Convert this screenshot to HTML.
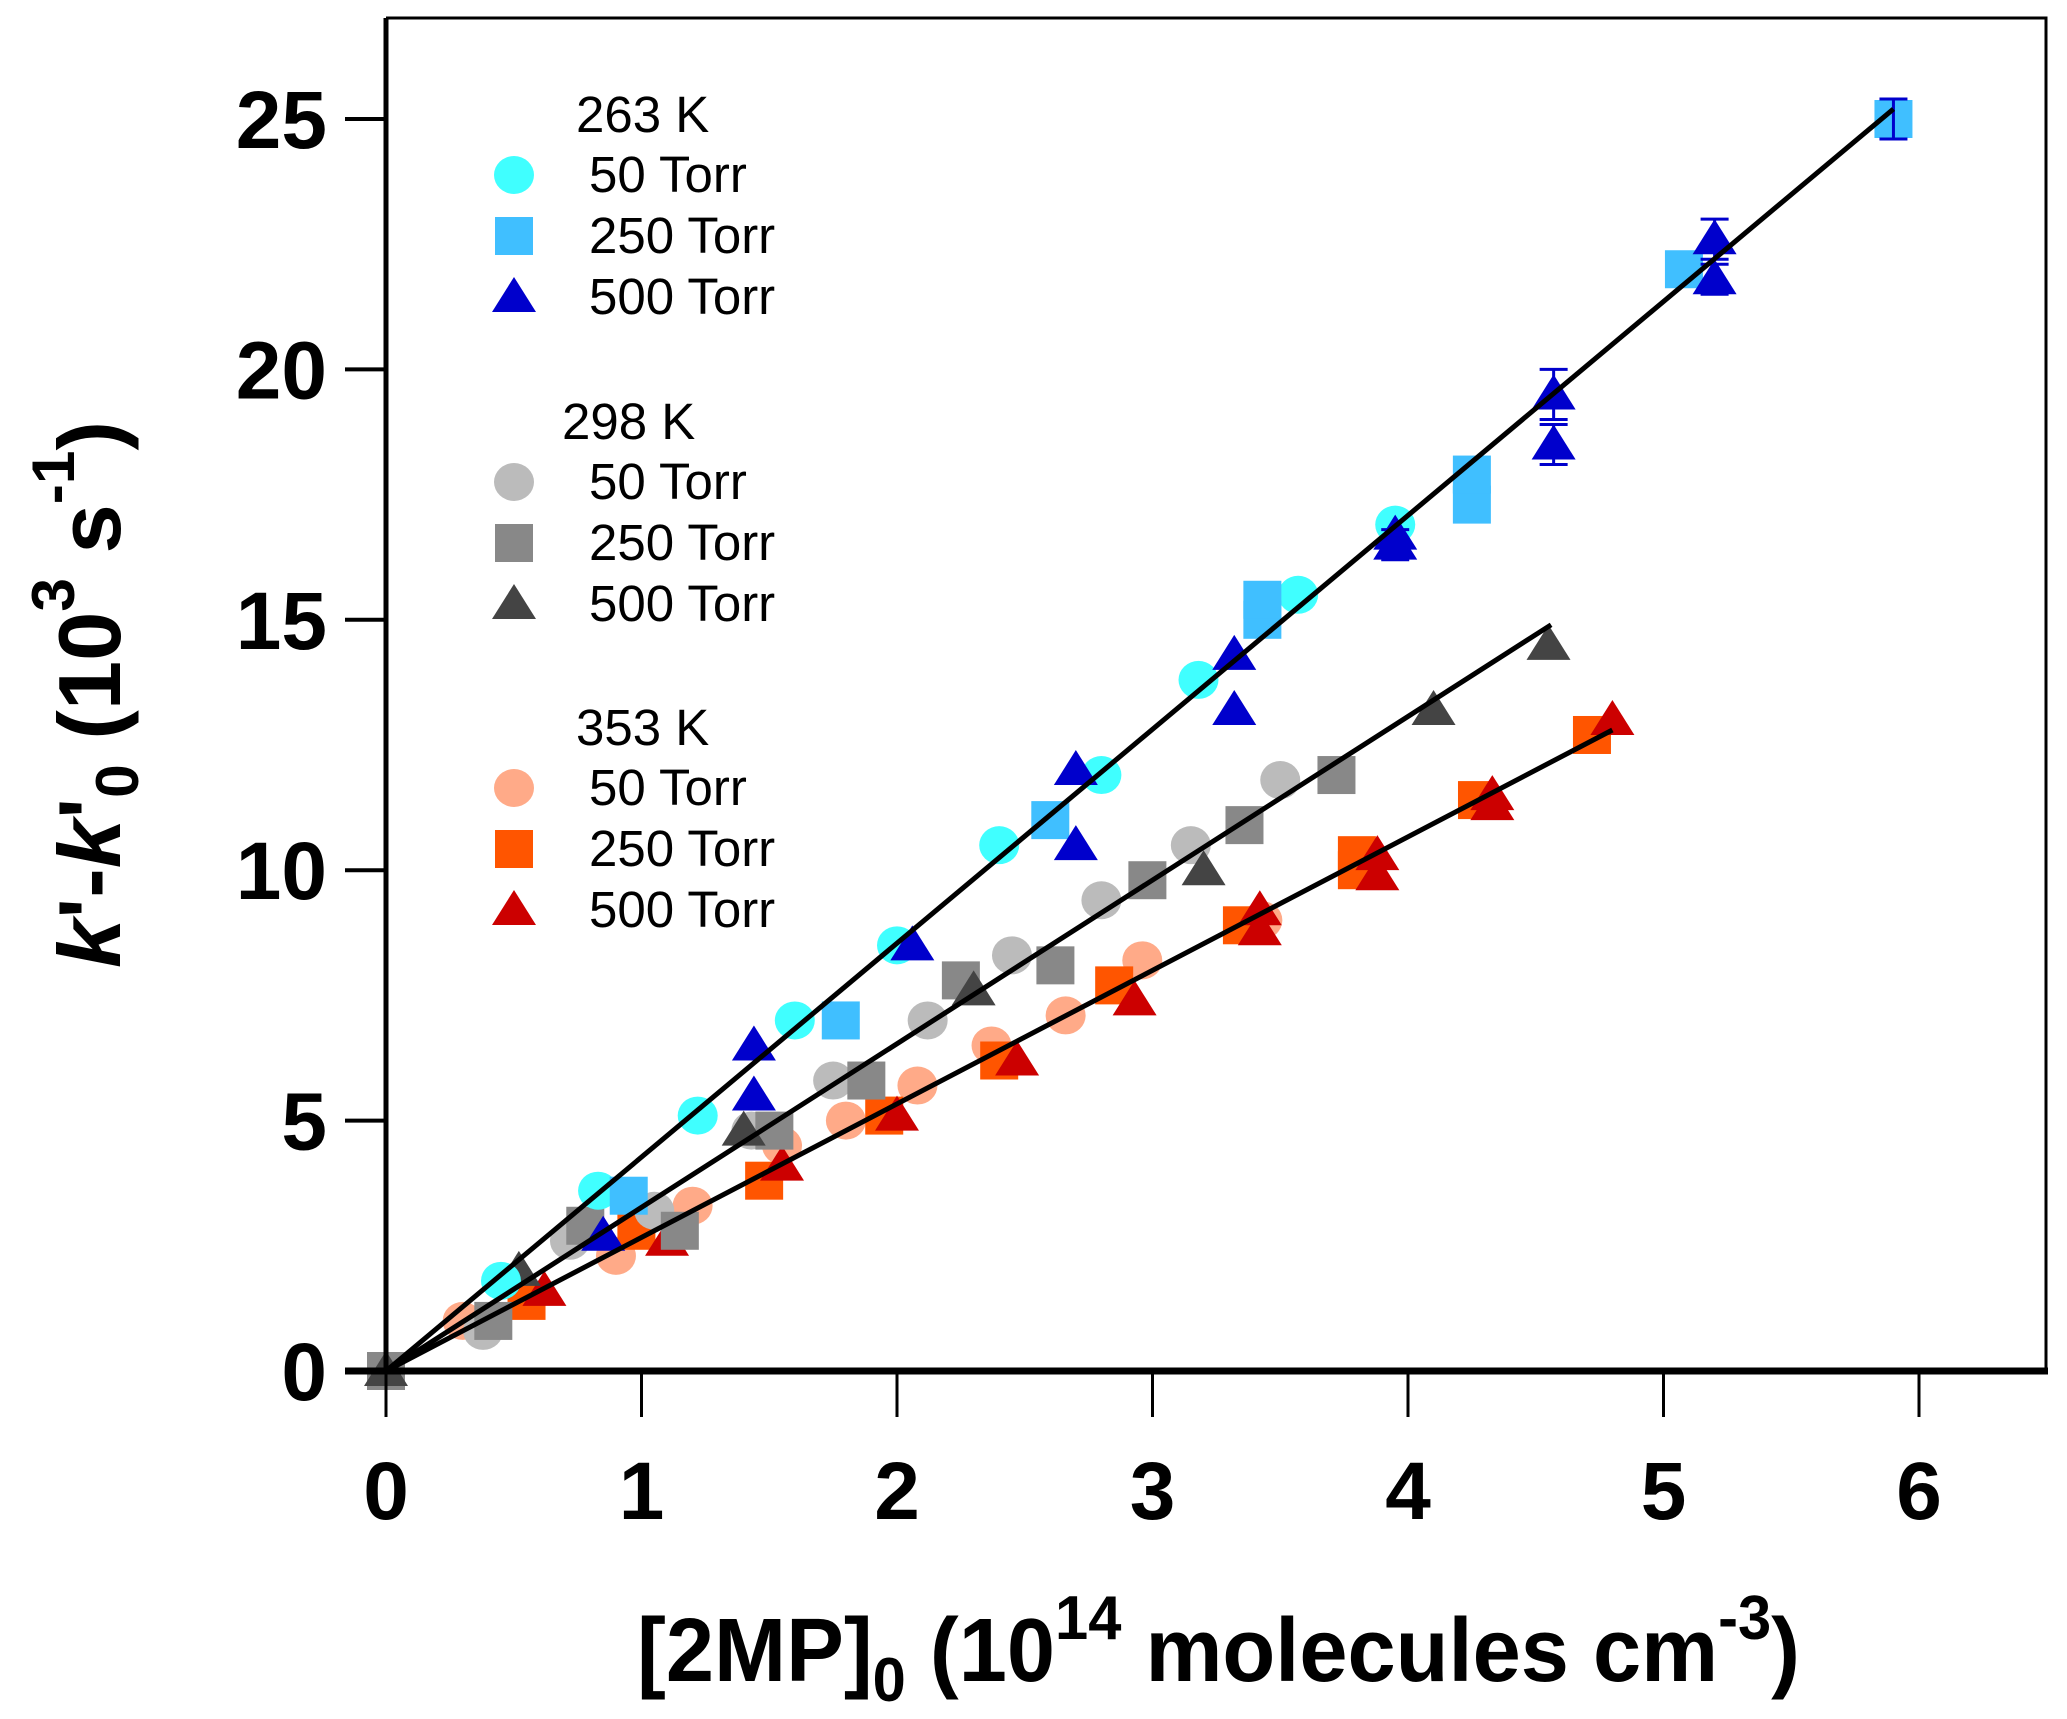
<!DOCTYPE html>
<html><head><meta charset="utf-8"><style>
html,body{margin:0;padding:0;background:#fff;}
svg{display:block;}
text{font-family:"Liberation Sans",Arial,sans-serif;}
</style></head><body>
<svg id="chart" width="2067" height="1719" viewBox="0 0 2067 1719" xmlns="http://www.w3.org/2000/svg">
<g id="marks"></g>
<g id="axes"></g>
<g id="legend"></g>
<text x="637" y="1681" font-size="90" font-weight="bold" textLength="1163" lengthAdjust="spacingAndGlyphs">[2MP]<tspan font-size="62" dy="20">0</tspan><tspan dy="-20"> (10</tspan><tspan font-size="62" dy="-42">14</tspan><tspan dy="42"> molecules cm</tspan><tspan font-size="62" dy="-42">-3</tspan><tspan dy="42">)</tspan></text>
<text transform="translate(120,968) rotate(-90)" x="0" y="0" font-size="88" font-weight="bold" textLength="547" lengthAdjust="spacingAndGlyphs"><tspan font-style="italic">k</tspan>'-<tspan font-style="italic">k</tspan>'<tspan font-size="60" dy="18">0</tspan><tspan dy="-18"> (10</tspan><tspan font-size="60" dy="-46">3</tspan><tspan dy="46"> s</tspan><tspan font-size="60" dy="-46">-1</tspan><tspan dy="46">)</tspan></text>
</svg>
<script>
const xTicks=[0,1,2,3,4,5,6];
const yTicks=[0,5,10,15,20,25];
const seriesNames=["353K-50","353K-250","353K-500","298K-50","298K-250","298K-500","263K-50","263K-250","263K-500"];
const s353_50x=[0.3,0.9,1.2,1.55,1.8,2.08,2.37,2.66,2.96,3.43];
const s353_50y=[1.0,2.3,3.3,4.5,5.0,5.7,6.5,7.1,8.2,9.0];
const s353_250x=[0.55,0.98,1.48,1.95,2.4,2.85,3.35,3.8,3.8,4.27,4.72];
const s353_250y=[1.4,2.8,3.8,5.1,6.2,7.7,8.9,10.0,10.3,11.4,12.7];
const s353_500x=[0.62,1.1,1.55,2.0,2.47,2.93,3.42,3.42,3.88,3.88,4.33,4.33,4.8];
const s353_500y=[1.6,2.6,4.1,5.1,6.2,7.4,9.2,8.8,10.3,9.9,11.5,11.3,13.0];
const s298_50x=[0.38,0.72,1.05,1.43,1.75,2.12,2.45,2.8,3.15,3.5];
const s298_50y=[0.8,2.6,3.2,4.8,5.8,7.0,8.3,9.4,10.5,11.8];
const s298_250x=[0,0.42,0.78,1.15,1.52,1.88,2.25,2.62,2.98,3.36,3.72];
const s298_250y=[0,1.0,2.9,2.8,4.8,5.8,7.8,8.1,9.8,10.9,11.9];
const s298_500x=[0,0.52,1.4,2.3,3.2,4.1,4.55];
const s298_500y=[0,2.0,4.8,7.6,10.0,13.2,14.5];
const s263_50x=[0.45,0.83,1.22,1.6,2.0,2.4,2.8,3.18,3.57,3.95];
const s263_50y=[1.8,3.6,5.1,7.0,8.5,10.5,11.9,13.8,15.5,16.9];
const s263_250x=[0.95,1.78,2.6,3.43,3.43,4.25,4.25,5.08,5.9];
const s263_250y=[3.5,7.0,11.0,15.0,15.4,17.3,17.9,22.0,25.0];
const s263_500x=[0.85,1.44,1.44,2.06,2.7,2.7,3.32,3.32,3.95,3.95,4.57,4.57,5.2,5.2];
const s263_500y=[2.7,6.5,5.5,8.5,12.0,10.5,14.3,13.2,16.7,16.5,19.5,18.5,22.6,21.8];
const errX=[5.9,5.2,5.2,4.57,4.57,3.95];
const errY=[25.0,22.6,21.8,19.5,18.5,16.5];
const errV=[0.4,0.4,0.3,0.5,0.4,0.3];
const fitEndX=[5.9,4.56,4.8];
const fitEndY=[25.2,14.9,12.8];
const fitNames=["fit-263K","fit-298K","fit-353K"];

const NS="http://www.w3.org/2000/svg";
const X0=386,X6=1919,Y0=1371,Y25=119;
function sx(v){return X0+(X6-X0)*v/6;}
function sy(v){return Y0-(Y0-Y25)*v/25;}
function mk(tag,attrs,parent){const e=document.createElementNS(NS,tag);for(const k in attrs)e.setAttribute(k,attrs[k]);parent.appendChild(e);return e;}
const marks=document.getElementById('marks');
function drawMarker(shape,color,cx,cy,parent,name){
  let e;
  if(shape==='c'){e=mk('ellipse',{cx:cx,cy:cy,rx:20,ry:19,fill:color},parent);}
  else if(shape==='s'){e=mk('rect',{x:cx-19,y:cy-19,width:38,height:38,fill:color},parent);}
  else {e=mk('polygon',{points:(cx)+','+(cy-20)+' '+(cx+22)+','+(cy+15)+' '+(cx-22)+','+(cy+15),fill:color},parent);}
  
  
  return e;
}
const series=[
 [s353_50x,s353_50y,'c','#FFAA88'],[s353_250x,s353_250y,'s','#FF5500'],[s353_500x,s353_500y,'t','#CC0000'],
 [s298_50x,s298_50y,'c','#BBBBBB'],[s298_250x,s298_250y,'s','#888888'],[s298_500x,s298_500y,'t','#444444'],
 [s263_50x,s263_50y,'c','#40FFFF'],[s263_250x,s263_250y,'s','#40BFFF'],[s263_500x,s263_500y,'t','#0000CC']];
series.forEach((s,i)=>{
  const g=mk('g',{},marks);
  
  
  for(let j=0;j<s[0].length;j++){drawMarker(s[2],s[3],sx(s[0][j]),sy(s[1][j]),g,'point-'+seriesNames[i]);}
});
for(let i=0;i<errX.length;i++){
  const x=sx(errX[i]),y1=sy(errY[i]+errV[i]),y2=sy(errY[i]-errV[i]);
  const e=mk('path',{d:'M'+x+','+y1+' V'+y2+' M'+(x-14)+','+y1+' H'+(x+14)+' M'+(x-14)+','+y2+' H'+(x+14),stroke:'#0000CC','stroke-width':3,fill:'none'},marks);
  
  
}
for(let i=0;i<fitEndX.length;i++){
  const l=mk('line',{x1:sx(0),y1:sy(0),x2:sx(fitEndX[i]),y2:sy(fitEndY[i]),stroke:'#000','stroke-width':5},marks);
  
  
}
const axes=document.getElementById('axes');
const frame=mk('path',{d:'M386,18 H2046 V1371',fill:'none',stroke:'#000','stroke-width':3},axes);


const ya=mk('line',{x1:386,y1:18,x2:386,y2:1373,stroke:'#000','stroke-width':5},axes);


const xa=mk('line',{x1:345,y1:1371,x2:2048,y2:1371,stroke:'#000','stroke-width':7},axes);


xTicks.forEach(v=>{
  const t=mk('line',{x1:sx(v),y1:1371,x2:sx(v),y2:1417,stroke:'#000','stroke-width':3},axes);
  
  
  const tx=mk('text',{x:sx(v),y:1519,'font-size':82,'font-weight':'bold','text-anchor':'middle'},axes);
  tx.textContent=v;
  
  
});
yTicks.forEach(v=>{
  const t=mk('line',{x1:345,y1:sy(v),x2:386,y2:sy(v),stroke:'#000','stroke-width':4},axes);
  
  
  const tx=mk('text',{x:327,y:sy(v)+29,'font-size':82,'font-weight':'bold','text-anchor':'end'},axes);
  tx.textContent=v;
  
  
});
const legend=document.getElementById('legend');
const legGroups=[["263 K",576,132,['#40FFFF','#40BFFF','#0000CC']],["298 K",562,439,['#BBBBBB','#888888','#444444']],["353 K",576,745,['#FFAA88','#FF5500','#CC0000']]];
const legLabels=["50 Torr","250 Torr","500 Torr"];
const legShapes=['c','s','t'];
legGroups.forEach(g=>{
  const h=mk('text',{x:g[1],y:g[2],'font-size':51},legend);
  h.textContent=g[0];
  
  
  for(let i=0;i<3;i++){
    const by=g[2]+60+i*61;
    drawMarker(legShapes[i],g[3][i],514,by-17,legend,'legend-marker');
    const t=mk('text',{x:589,y:by,'font-size':51},legend);
    t.textContent=legLabels[i];
    
    
  }
});
</script>
</body></html>
